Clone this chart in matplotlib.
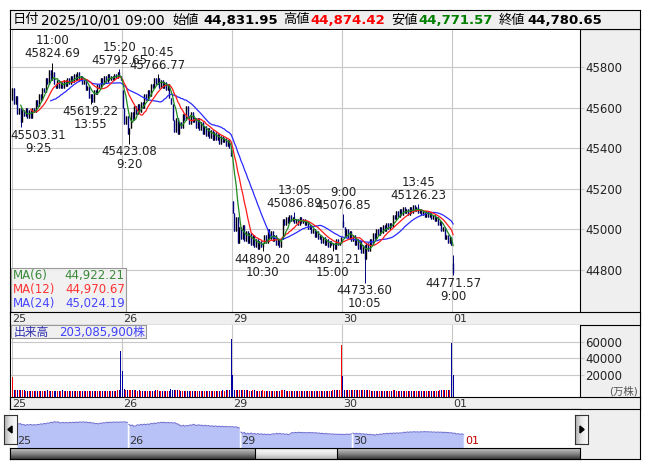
import numpy as np
import pandas as pd
import matplotlib
matplotlib.use("Agg")
import matplotlib.pyplot as plt
from matplotlib.colors import LinearSegmentedColormap
from matplotlib.patches import Rectangle, Polygon
import matplotlib.transforms as mtransforms

plt.rcParams['font.family'] = ['DejaVu Sans', 'Noto Sans CJK JP']

W, H = 653, 470

# ------------------------
# data: 5-minute bars, 25 Sep - 01 Oct
# ------------------------
close_25 = [45700, 45620, 45660, 45570, 45600, 45530, 45590, 45560, 45600, 45550, 45590,
            45550, 45600, 45580, 45640, 45610, 45670, 45640, 45700, 45680, 45750, 45720,
            45790, 45740, 45780, 45720, 45700, 45740, 45700, 45730, 45700, 45740, 45710,
            45750, 45720, 45760, 45730, 45770, 45740, 45780, 45740, 45760, 45720, 45740,
            45690, 45710, 45650, 45670, 45630, 45690, 45670, 45720, 45700, 45750, 45720,
            45760, 45730, 45770, 45740, 45760, 45740, 45770, 45750, 45780, 45760, 45740]
close_26 = [45600, 45520, 45560, 45470, 45500, 45580, 45540, 45610, 45570, 45620, 45580,
            45630, 45600, 45670, 45640, 45690, 45660, 45720, 45700, 45750, 45720, 45750,
            45700, 45740, 45700, 45730, 45690, 45720, 45650, 45620, 45540, 45480, 45550,
            45470, 45530, 45500, 45570, 45540, 45610, 45560, 45520, 45580, 45530, 45550,
            45500, 45550, 45490, 45530, 45470, 45510, 45460, 45500, 45450, 45490, 45440,
            45480, 45440, 45470, 45420, 45460, 45430, 45450, 45410, 45440, 45400, 45360]
close_29 = [45080, 44990, 45060, 44930, 45010, 44950, 45020, 44940, 44990, 44930, 44980,
            44920, 44970, 44910, 44950, 44900, 44940, 44910, 44930, 44970, 44930, 45000,
            44950, 44990, 44940, 44970, 44920, 44950, 44910, 44950, 45050, 45020, 45060,
            45030, 45070, 45040, 45060, 45030, 45050, 45020, 45060, 45030, 45050, 45020,
            45040, 45000, 45020, 44980, 45000, 44960, 44990, 44950, 44970, 44930, 44960,
            44920, 44950, 44910, 44940, 44920, 44930, 44900, 44950, 44920, 44930, 44960]
close_30 = [45010, 44960, 45000, 44950, 44990, 44940, 44970, 44920, 44950, 44900, 44940,
            44880, 44920, 44850, 44930, 44890, 44950, 44920, 44980, 44950, 45000, 44970,
            45010, 44980, 45020, 44990, 45030, 45000, 45030, 45010, 45070, 45050, 45090,
            45060, 45100, 45070, 45110, 45080, 45100, 45070, 45110, 45080, 45120, 45090,
            45110, 45080, 45100, 45070, 45090, 45060, 45090, 45060, 45080, 45050, 45070,
            45040, 45060, 45020, 45040, 44990, 45010, 44950, 44970, 44930, 44960, 44920]
close_01 = [44780.65]

# opens that gap away from the previous close
day_opens = {0: 45640, 66: 45690, 132: 45140, 198: 45040, 264: 44831.95}
last_high = 44874.42

# marked highs / lows: (bar, kind, price, time)
marks = [(24, 'high', 45824.69, '11:00'), (5, 'low', 45503.31, '9:25'),
         (47, 'low', 45619.22, '13:55'), (64, 'high', 45792.65, '15:20'),
         (70, 'low', 45423.08, '9:20'), (87, 'high', 45766.77, '10:45'),
         (150, 'low', 44890.20, '10:30'), (169, 'high', 45086.89, '13:05'),
         (192, 'low', 44891.21, '15:00'), (198, 'high', 45076.85, '9:00'),
         (211, 'low', 44733.60, '10:05'), (243, 'high', 45126.23, '13:45'),
         (264, 'low', 44771.57, '9:00')]

# volume (万株)
vol_25 = [18000, 3000, 2600, 2500, 2400, 2300, 2200, 2300, 2100, 2000, 2100,
          1900, 2000, 1800, 1900, 1800, 1700, 1900, 1800, 2000, 1900, 2200,
          2000, 1800, 2100, 1900, 1700, 1800, 1600, 1900, 2900, 2100, 1800,
          1700, 1600, 1800, 1700, 1600, 1700, 1800, 1600, 1700, 1500, 1600,
          1700, 1800, 1900, 2000, 1800, 1700, 1600, 1700, 1800, 1600, 1700,
          1800, 1700, 1600, 1800, 1900, 1800, 2000, 2100, 2200, 2400, 48600]
vol_26 = [25300, 3700, 3000, 2800, 2600, 2500, 2400, 2300, 2200, 2100, 2300,
          2000, 2100, 1900, 2000, 1800, 1900, 1800, 2000, 2100, 2300, 2200,
          1900, 1800, 1700, 1800, 1700, 1900, 2000, 4000, 2600, 2800, 2300,
          2500, 2200, 2000, 1900, 2100, 1800, 1900, 2000, 1800, 1700, 1800,
          1900, 1700, 1800, 1900, 1700, 1800, 1900, 1700, 1800, 2000, 1900,
          1800, 2000, 2100, 1900, 2000, 2200, 2100, 2300, 2600, 3000, 62900]
vol_29 = [20000, 3300, 3200, 2900, 2700, 2600, 2400, 2300, 2200, 2500, 2100,
          2000, 2200, 2900, 2100, 2000, 1900, 2100, 2200, 1900, 1800, 1900,
          1700, 1800, 1700, 1800, 1900, 1700, 1800, 2800, 2500, 2200, 2000,
          1900, 1800, 2000, 1900, 2100, 1800, 1700, 1900, 1800, 1700, 1600,
          1800, 1700, 1800, 1900, 1700, 1800, 1600, 1700, 1800, 1900, 1700,
          1800, 1900, 2000, 2100, 2000, 2300, 2200, 2400, 2600, 2900, 55500]
vol_30 = [18800, 3300, 3000, 2800, 2600, 2500, 2400, 2300, 2200, 2400, 2500,
          2700, 2900, 3200, 2600, 2400, 2200, 2100, 2000, 1900, 2000, 1800,
          1900, 1800, 1700, 1800, 1900, 1700, 1800, 1900, 2600, 2200, 2000,
          1900, 1800, 2000, 1900, 1700, 1800, 1900, 1700, 1800, 1900, 1800,
          1700, 2000, 1800, 1700, 1800, 1600, 1700, 1800, 1900, 1700, 1800,
          1900, 2000, 2100, 2300, 2200, 2400, 2300, 2500, 2700, 2600, 58000]
vol_01 = [20309]

day_labels = ['25', '26', '29', '30', '01']
day_starts = [0, 66, 132, 198, 264]
price_ticks = [44800, 45000, 45200, 45400, 45600, 45800]
vol_ticks = [20000, 40000, 60000]
ma_windows = [6, 12, 24]
ma_values = ['44,922.21', '44,970.67', '45,024.19']
ma_colors = ['#1f8a1f', '#ff1a1a', '#2a2aff']
ma_text_colors = ['#3a8a3a', '#ff3333', '#4646ff']

header = [(12.5, '日付', 'black', 'normal'), (41, '2025/10/01 09:00', 'black', 'normal'),
          (172, '始値', 'black', 'normal'), (203, '44,831.95', 'black', 'bold'),
          (283, '高値', 'black', 'normal'), (310, '44,874.42', '#ff0000', 'bold'),
          (391, '安値', 'black', 'normal'), (418, '44,771.57', '#008000', 'bold'),
          (499, '終値', 'black', 'normal'), (527, '44,780.65', 'black', 'bold')]

# ------------------------
# derived OHLC
# ------------------------
closes = np.array(close_25 + close_26 + close_29 + close_30 + close_01, dtype=float)
volume = np.array(vol_25 + vol_26 + vol_29 + vol_30 + vol_01, dtype=float)
n = len(closes)
idx = np.arange(n)
opens = np.r_[closes[0], closes[:-1]]
for k, v in day_opens.items():
    opens[k] = v
highs = np.maximum(opens, closes)
lows = np.minimum(opens, closes)
highs[264] = last_high
for i, kind, p, t in marks:
    if kind == 'high':
        highs[i] = p
    else:
        lows[i] = p
up = closes >= opens

# ------------------------
# figure / panels
# ------------------------
fig = plt.figure(figsize=(W / 100, H / 100), dpi=100)
fig.patch.set_facecolor('white')


def panel(x0, y0, x1, y1, fc='white'):
    ax = fig.add_axes([x0 / W, 1 - y1 / H, (x1 - x0) / W, (y1 - y0) / H])
    ax.set_facecolor(fc)
    ax.set_xticks([])
    ax.set_yticks([])
    for s in ax.spines.values():
        s.set_color('black')
        s.set_linewidth(0.8)
    return ax


GRAY = '#efefef'
GRID = '#c8c8c8'
XL = (-0.8, 339.7)
day_lines = [s - 0.5 for s in day_starts]

frame = panel(10, 29, 640, 459, GRAY)
head = panel(10, 10, 640, 29, GRAY)
for x, s, c, w in header:
    is_cjk = not s[0].isdigit()
    fig.text(x / W, 1 - 20 / H, s, color=c, fontweight=w,
             fontsize=9.5 if is_cjk else (10 if w == 'normal' else 9.5),
             va='center', ha='left')

# ---- price panel ----
ax = panel(11, 29.5, 579.5, 312)
for s in ['left', 'top', 'bottom']:
    ax.spines[s].set_visible(False)
ax.set_xlim(*XL)
ax.set_ylim(44590, 45988)
ax.set_xticks(day_lines)
ax.set_xticklabels([])
ax.tick_params(axis='x', length=0)
ax.yaxis.tick_right()
ax.set_yticks(price_ticks)
ax.tick_params(axis='y', length=3, color=GRID, pad=1, labelsize=8.5, labelcolor='#222')
ax.grid(color=GRID, lw=0.8)
ax.set_axisbelow(True)

col = np.where(up, 'black', '#000080')
ax.vlines(idx, lows, highs, colors=col, lw=0.7, zorder=2)
ax.vlines(idx, np.minimum(opens, closes), np.maximum(opens, closes), colors=col, lw=1.0, zorder=2)

s = pd.Series(closes)
for w, c in zip(ma_windows[::-1], ma_colors[::-1]):
    ax.plot(idx, s.rolling(w).mean(), color=c, lw=0.9, zorder=3)

half = 16.5
for i, kind, p, t in marks:
    xt = min(max(i, XL[0] + half), XL[1] - half)
    if kind == 'high':
        ax.annotate(f'{t}\n{p:.2f}', (xt, p), xytext=(0, 1.5), textcoords='offset points',
                    ha='center', va='bottom', fontsize=8.5, color='#222', linespacing=1.0, zorder=4)
    else:
        ax.annotate(f'{p:.2f}\n{t}', (xt, p), xytext=(0, -1), textcoords='offset points',
                    ha='center', va='top', fontsize=8.5, color='#222', linespacing=1.0, zorder=4)

# MA legend box
leg = fig.add_axes([11 / W, 1 - 312 / H, 115 / W, 44 / H])
leg.set_xlim(0, 1)
leg.set_ylim(0, 1)
leg.set_xticks([])
leg.set_yticks([])
leg.set_facecolor('#f0f0f0')
leg.patch.set_alpha(0.9)
for sp in leg.spines.values():
    sp.set_color('#999999')
for r, (w, v, c) in enumerate(zip(ma_windows, ma_values, ma_text_colors)):
    yy = 0.82 - r * 0.31
    leg.text(0.02, yy, f'MA({w})', color=c, fontsize=8.5, va='center', ha='left')
    leg.text(0.99, yy, v, color=c, fontsize=8.5, va='center', ha='right')


def date_strip(y0, y1):
    st = panel(10, y0, 640, y1, GRAY)
    lab = fig.add_axes([11 / W, 1 - y1 / H, 568.5 / W, (y1 - y0) / H])
    lab.axis('off')
    lab.set_xlim(*XL)
    lab.set_ylim(0, 1)
    for d, lbl in zip(day_lines, day_labels):
        lab.text(d + 0.6, 0.45, lbl, fontsize=8, color='#333', ha='left', va='center')


date_strip(312, 325)

# ---- volume panel ----
av = panel(11, 325, 579.5, 397)
for s_ in ['left', 'top', 'bottom']:
    av.spines[s_].set_visible(False)
av.set_xlim(*XL)
v_bottom = -5500
av.set_ylim(v_bottom, 79500)
av.set_xticks(day_lines)
av.set_xticklabels([])
av.tick_params(axis='x', length=0)
av.yaxis.tick_right()
av.set_yticks(vol_ticks)
av.tick_params(axis='y', length=3, color=GRID, pad=1, labelsize=8.5, labelcolor='#222')
av.grid(color=GRID, lw=0.8)
av.set_axisbelow(True)
vcol = np.where(up, '#ff0000', '#0000a0')
av.bar(idx, volume - v_bottom, bottom=v_bottom, width=0.6, color=vcol, zorder=2)
fig.text(638 / W, 1 - 391 / H, '(万株)', fontsize=7.5, color='#555', ha='right', va='center')

vl = fig.add_axes([11 / W, 1 - 338 / H, 135 / W, 13 / H])
vl.set_xticks([])
vl.set_yticks([])
vl.set_facecolor('#f0f0f0')
for sp in vl.spines.values():
    sp.set_color('#999999')
vl.text(0.02, 0.45, '出来高', color='#3030b0', fontsize=8.5, va='center', ha='left',
        transform=vl.transAxes)
vl.text(0.99, 0.45, '203,085,900株', color='#4040ff', fontsize=8.5, va='center', ha='right',
        transform=vl.transAxes)

date_strip(397, 409)

# ---- navigator ----
nav = panel(10, 409, 580, 448)
for s_ in ['left', 'right', 'bottom']:
    nav.spines[s_].set_visible(False)
nav.set_xlim(-4.1, 331.8)
nav.set_ylim(44000, 46650)
for a, b in zip(day_starts[:-1], day_starts[1:]):
    xs = idx[a:b]
    nav.fill_between(xs, closes[a:b], 44000, color='#b8c2f6', lw=0, zorder=1)
    nav.plot(xs, closes[a:b], color='#7474d4', lw=0.8, zorder=2)
blend = mtransforms.blended_transform_factory(nav.transData, nav.transAxes)
for d, lbl in zip(day_starts, day_labels):
    nav.text(d, 0.18, lbl, transform=blend, fontsize=8, ha='left', va='center',
             color='#c00000' if lbl == '01' else '#333', zorder=3)

bar_cmap = LinearSegmentedColormap.from_list('sb', ['#3c3c3c', '#8a8a8a', '#c8c8c8'])
thumb_cmap = LinearSegmentedColormap.from_list('th', ['#b4b4b4', '#e8e8e8', '#fafafa'])
sb = panel(10, 448, 580, 459)
grad = np.linspace(0, 1, 20).reshape(-1, 1)
sb.imshow(grad, cmap=bar_cmap, aspect='auto', extent=[0, 1, 0, 1], origin='lower')
t0, t1 = (255 - 10) / 570, (337 - 10) / 570
sb.imshow(grad, cmap=thumb_cmap, aspect='auto', extent=[t0, t1, 0, 1], origin='lower')
sb.add_patch(Rectangle((t0, 0), t1 - t0, 1, fill=False, ec='black', lw=0.8))
sb.set_xlim(0, 1)
sb.set_ylim(0, 1)

# arrow buttons
for x0, pts in [(4, [(0.62, 0.38), (0.62, 0.62), (0.3, 0.5)]),
                (575, [(0.38, 0.38), (0.38, 0.62), (0.7, 0.5)])]:
    btn = fig.add_axes([x0 / W, 1 - 444 / H, 13 / W, 29 / H])
    btn.set_xlim(0, 1)
    btn.set_ylim(0, 1)
    btn.set_xticks([])
    btn.set_yticks([])
    btn.imshow(np.linspace(0, 1, 10).reshape(1, -1), cmap=thumb_cmap, aspect='auto',
               extent=[0, 1, 0, 1])
    btn.add_patch(Polygon(pts, closed=True, color='black'))
    for sp in btn.spines.values():
        sp.set_color('#333')
        sp.set_linewidth(0.8)

plt.savefig('out.png', dpi=100, facecolor=fig.get_facecolor())
